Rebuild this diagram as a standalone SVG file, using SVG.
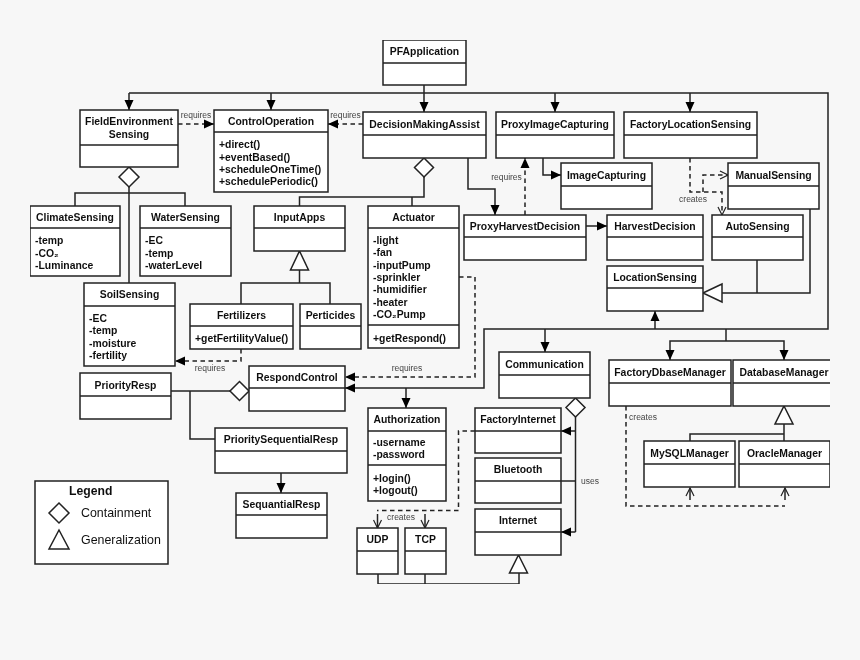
<svg xmlns="http://www.w3.org/2000/svg" width="860" height="660" viewBox="0 0 860 660">
<style>
text{font-family:"Liberation Sans",Arial,sans-serif;fill:#111}
.t{font-size:10.4px;font-weight:700;text-anchor:middle}
.a{font-size:10.4px;font-weight:700}
.l{font-size:8.5px;fill:#444;text-anchor:middle}
.box{fill:#fff;stroke:#222;stroke-width:1.5}
.div{fill:none;stroke:#222;stroke-width:1.5}
.c{fill:none;stroke:#222;stroke-width:1.5}
.d{stroke-dasharray:4.500 3.500}
.s{marker-end:url(#fa)}
.o{marker-end:url(#oa)}
.w{fill:#fff;stroke:#222;stroke-width:1.5}
</style>
<defs>
<marker id="fa" markerUnits="userSpaceOnUse" markerWidth="11" markerHeight="10" refX="10.500" refY="5" orient="auto"><path d="M0.500,0.500L10.500,5L0.500,9.500z" fill="#000"/></marker>
<marker id="oa" markerUnits="userSpaceOnUse" markerWidth="10" markerHeight="10" refX="9" refY="5" orient="auto"><path d="M1,1L9,5L1,9" fill="none" stroke="#222" stroke-width="1.200"/></marker>
<clipPath id="crop"><rect x="30" y="39" width="800" height="546"/></clipPath>
<filter id="soft" x="0" y="0" width="100%" height="100%"><feGaussianBlur stdDeviation="0.35"/></filter>
</defs>
<rect width="860" height="660" fill="#f7f7f7"/>
<g clip-path="url(#crop)" filter="url(#soft)">
<g id="connectors">
<path class="c" d="M129,93H828V329H484V388H424"/>
<path class="c s" d="M424,388H345"/>
<path class="c" d="M424,85V93"/>
<path class="c s" d="M424,93V112"/>
<path class="c s" d="M129,93V110"/>
<path class="c s" d="M271,93V110"/>
<path class="c s" d="M555,93V112"/>
<path class="c s" d="M690,93V112"/>
<path class="c s" d="M545,329V352"/>
<path class="c s" d="M655,329V311"/>
<path class="c" d="M726,329V341"/>
<path class="c s" d="M726,341H670V360"/>
<path class="c s" d="M726,341H784V360"/>
<path class="c s" d="M406,388V408"/>
<path class="c d s" d="M178,124H214"/>
<path class="c d s" d="M363,124H328"/>
<path class="c" d="M129,187V283"/>
<path class="c" d="M75,206V193H185V206"/>
<path class="c" d="M424,177V197H299.500V206"/>
<path class="c" d="M412,197V206"/>
<path class="c" d="M299.500,270V283M241,304V283H330V304"/>
<path class="c s" d="M468,158V189H495V215"/>
<path class="c d s" d="M525,215V158"/>
<path class="c s" d="M543,158V175H561"/>
<path class="c s" d="M586,226H607"/>
<path class="c d o" d="M690,158V192H722V215"/>
<path class="c d o" d="M703,192V175H728"/>
<path class="c" d="M757,260V293"/>
<path class="c" d="M810,209V293H722"/>
<path class="c d s" d="M459,277H475V377H345"/>
<path class="c d s" d="M241,349V361H175"/>
<path class="c" d="M171,391H230"/>
<path class="c" d="M190,391V439H215"/>
<path class="c s" d="M281,473V493"/>
<path class="c" d="M575.500,417V532"/>
<path class="c s" d="M575.500,532H561"/>
<path class="c s" d="M575.500,431H561"/>
<path class="c" d="M575.500,481H561"/>
<path class="c d" d="M475,431H458.500V510.500H377"/>
<path class="c o" d="M377.500,514V528"/>
<path class="c o" d="M425,514V528"/>
<path class="c" d="M378,574V584H519V573"/>
<path class="c" d="M425,574V584"/>
<path class="c d" d="M626,406V506H785"/>
<path class="c o" d="M690,500V488"/>
<path class="c o" d="M785,500V488"/>
<path class="c" d="M784,424V441"/>
<path class="c" d="M690,441V434H784"/>
<polygon class="w" points="129,167 139,177 129,187 119,177"/>
<polygon class="w" points="424,158 433.500,167.500 424,177 414.500,167.500"/>
<polygon class="w" points="239.500,381.500 249,391 239.500,400.500 230,391"/>
<polygon class="w" points="575.500,398 585,407.500 575.500,417 566,407.500"/>
<polygon class="w" points="299.500,251 308.500,270 290.500,270"/>
<polygon class="w" points="703,293 722,284 722,302"/>
<polygon class="w" points="518.500,555 527.500,573 509.500,573"/>
<polygon class="w" points="784,406 793,424 775,424"/>
<text class="l" x="196" y="118">requires</text>
<text class="l" x="345.500" y="118">requires</text>
<text class="l" x="506.500" y="180">requires</text>
<text class="l" x="693" y="202">creates</text>
<text class="l" x="407" y="371">requires</text>
<text class="l" x="210" y="371">requires</text>
<text class="l" x="401" y="520">creates</text>
<text class="l" x="643" y="420">creates</text>
<text class="l" x="590" y="484">uses</text>
</g>
<g id="PFApplication"><rect class="box" x="383" y="40" width="83" height="45"/><path class="div" d="M383,63H466"/><text class="t" x="424.500" y="55">PFApplication</text></g>
<g id="FieldEnvironmentSensing"><rect class="box" x="80" y="110" width="98" height="57"/><path class="div" d="M80,145H178"/><text class="t" x="129" y="125">FieldEnvironment</text><text class="t" x="129" y="137.500">Sensing</text></g>
<g id="ControlOperation"><rect class="box" x="214" y="110" width="114" height="82"/><path class="div" d="M214,132H328"/><text class="t" x="271" y="125">ControlOperation</text><text class="a" x="219" y="148">+direct()</text><text class="a" x="219" y="160.500">+eventBased()</text><text class="a" x="219" y="172.500">+scheduleOneTime()</text><text class="a" x="219" y="185">+schedulePeriodic()</text></g>
<g id="DecisionMakingAssist"><rect class="box" x="363" y="112" width="123" height="46"/><path class="div" d="M363,135H486"/><text class="t" x="424.500" y="128">DecisionMakingAssist</text></g>
<g id="ProxyImageCapturing"><rect class="box" x="496" y="112" width="118" height="46"/><path class="div" d="M496,135H614"/><text class="t" x="555" y="128">ProxyImageCapturing</text></g>
<g id="FactoryLocationSensing"><rect class="box" x="624" y="112" width="133" height="46"/><path class="div" d="M624,135H757"/><text class="t" x="690.500" y="128">FactoryLocationSensing</text></g>
<g id="ImageCapturing"><rect class="box" x="561" y="163" width="91" height="46"/><path class="div" d="M561,186H652"/><text class="t" x="606.500" y="179">ImageCapturing</text></g>
<g id="ManualSensing"><rect class="box" x="728" y="163" width="91" height="46"/><path class="div" d="M728,186H819"/><text class="t" x="773.500" y="179">ManualSensing</text></g>
<g id="ProxyHarvestDecision"><rect class="box" x="464" y="215" width="122" height="45"/><path class="div" d="M464,237H586"/><text class="t" x="525" y="230">ProxyHarvestDecision</text></g>
<g id="HarvestDecision"><rect class="box" x="607" y="215" width="96" height="45"/><path class="div" d="M607,237H703"/><text class="t" x="655" y="230">HarvestDecision</text></g>
<g id="AutoSensing"><rect class="box" x="712" y="215" width="91" height="45"/><path class="div" d="M712,237H803"/><text class="t" x="757.500" y="230">AutoSensing</text></g>
<g id="LocationSensing"><rect class="box" x="607" y="266" width="96" height="45"/><path class="div" d="M607,288H703"/><text class="t" x="655" y="281">LocationSensing</text></g>
<g id="ClimateSensing"><rect class="box" x="30" y="206" width="90" height="70"/><path class="div" d="M30,228H120"/><text class="t" x="75" y="221">ClimateSensing</text><text class="a" x="35" y="244">-temp</text><text class="a" x="35" y="256.500">-CO₂</text><text class="a" x="35" y="269">-Luminance</text></g>
<g id="WaterSensing"><rect class="box" x="140" y="206" width="91" height="70"/><path class="div" d="M140,228H231"/><text class="t" x="185.500" y="221">WaterSensing</text><text class="a" x="145" y="244">-EC</text><text class="a" x="145" y="256.500">-temp</text><text class="a" x="145" y="269">-waterLevel</text></g>
<g id="InputApps"><rect class="box" x="254" y="206" width="91" height="45"/><path class="div" d="M254,228H345"/><text class="t" x="299.500" y="221">InputApps</text></g>
<g id="Actuator"><rect class="box" x="368" y="206" width="91" height="142"/><path class="div" d="M368,228H459M368,325H459"/><text class="t" x="413.500" y="221">Actuator</text><text class="a" x="373" y="244">-light</text><text class="a" x="373" y="256">-fan</text><text class="a" x="373" y="268.500">-inputPump</text><text class="a" x="373" y="281">-sprinkler</text><text class="a" x="373" y="293">-humidifier</text><text class="a" x="373" y="305.500">-heater</text><text class="a" x="373" y="317.500">-CO₂Pump</text><text class="a" x="373" y="342">+getRespond()</text></g>
<g id="SoilSensing"><rect class="box" x="84" y="283" width="91" height="83"/><path class="div" d="M84,306H175"/><text class="t" x="129.500" y="298">SoilSensing</text><text class="a" x="89" y="322">-EC</text><text class="a" x="89" y="334">-temp</text><text class="a" x="89" y="346.500">-moisture</text><text class="a" x="89" y="358.500">-fertility</text></g>
<g id="Fertilizers"><rect class="box" x="190" y="304" width="103" height="45"/><path class="div" d="M190,326H293"/><text class="t" x="241.500" y="319">Fertilizers</text><text class="a" x="195" y="342">+getFertilityValue()</text></g>
<g id="Perticides"><rect class="box" x="300" y="304" width="61" height="45"/><path class="div" d="M300,326H361"/><text class="t" x="330.500" y="319">Perticides</text></g>
<g id="RespondControl"><rect class="box" x="249" y="366" width="96" height="45"/><path class="div" d="M249,388H345"/><text class="t" x="297" y="381">RespondControl</text></g>
<g id="PriorityResp"><rect class="box" x="80" y="373" width="91" height="46"/><path class="div" d="M80,396H171"/><text class="t" x="125.500" y="389">PriorityResp</text></g>
<g id="PrioritySequentialResp"><rect class="box" x="215" y="428" width="132" height="45"/><path class="div" d="M215,451H347"/><text class="t" x="281" y="443">PrioritySequentialResp</text></g>
<g id="SequantialResp"><rect class="box" x="236" y="493" width="91" height="45"/><path class="div" d="M236,515H327"/><text class="t" x="281.500" y="508">SequantialResp</text></g>
<g id="Authorization"><rect class="box" x="368" y="408" width="78" height="93"/><path class="div" d="M368,431H446M368,465H446"/><text class="t" x="407" y="423">Authorization</text><text class="a" x="373" y="446">-username</text><text class="a" x="373" y="458">-password</text><text class="a" x="373" y="482">+login()</text><text class="a" x="373" y="494">+logout()</text></g>
<g id="UDP"><rect class="box" x="357" y="528" width="41" height="46"/><path class="div" d="M357,551H398"/><text class="t" x="377.500" y="543">UDP</text></g>
<g id="TCP"><rect class="box" x="405" y="528" width="41" height="46"/><path class="div" d="M405,551H446"/><text class="t" x="425.500" y="543">TCP</text></g>
<g id="Communication"><rect class="box" x="499" y="352" width="91" height="46"/><path class="div" d="M499,375H590"/><text class="t" x="544.500" y="368">Communication</text></g>
<g id="FactoryInternet"><rect class="box" x="475" y="408" width="86" height="45"/><path class="div" d="M475,431H561"/><text class="t" x="518" y="423">FactoryInternet</text></g>
<g id="Bluetooth"><rect class="box" x="475" y="458" width="86" height="45"/><path class="div" d="M475,481H561"/><text class="t" x="518" y="473">Bluetooth</text></g>
<g id="Internet"><rect class="box" x="475" y="509" width="86" height="46"/><path class="div" d="M475,532H561"/><text class="t" x="518" y="524">Internet</text></g>
<g id="FactoryDbaseManager"><rect class="box" x="609" y="360" width="122" height="46"/><path class="div" d="M609,383H731"/><text class="t" x="670" y="376">FactoryDbaseManager</text></g>
<g id="DatabaseManager"><rect class="box" x="733" y="360" width="102" height="46"/><path class="div" d="M733,383H835"/><text class="t" x="784" y="376">DatabaseManager</text></g>
<g id="MySQLManager"><rect class="box" x="644" y="441" width="91" height="46"/><path class="div" d="M644,464H735"/><text class="t" x="689.500" y="457">MySQLManager</text></g>
<g id="OracleManager"><rect class="box" x="739" y="441" width="91" height="46"/><path class="div" d="M739,464H830"/><text class="t" x="784.500" y="457">OracleManager</text></g>
<g id="Legend"><rect class="box" x="35" y="481" width="133" height="83"/><text x="69" y="495" font-size="12.200" font-weight="700">Legend</text><polygon class="w" points="59,503 69,513 59,523 49,513"/><text x="81" y="517" font-size="12.400">Containment</text><polygon class="w" points="59,530 69,549 49,549"/><text x="81" y="544" font-size="12.400">Generalization</text></g>
</g>
</svg>
